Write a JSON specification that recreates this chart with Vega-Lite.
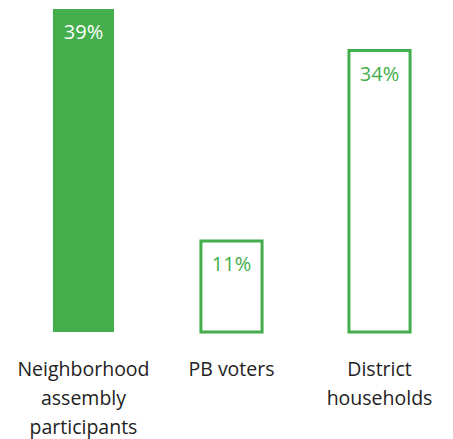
{
  "$schema": "https://vega.github.io/schema/vega-lite/v6.json",
  "autosize": "none",
  "width": 443,
  "height": 332,
  "padding": {"left": 10, "top": 0, "right": 0, "bottom": 107},
  "background": "white",
  "config": {"view": {"stroke": null}, "font": "Open Sans"},
  "data": {"values": [
    {"group": "Neighborhood assembly participants", "share": 0.39},
    {"group": "PB voters", "share": 0.11},
    {"group": "District households", "share": 0.34}
  ]},
  "encoding": {
    "x": {"field": "group", "type": "nominal", "sort": null,
      "scale": {"paddingInner": 0.587, "paddingOuter": 0.29},
      "axis": {"title": null, "domain": false, "ticks": false, "tickSize": 0, "labelAngle": 0,
        "labelPadding": 28, "labelFontSize": 19.5, "labelColor": "#222222", "labelFont": "Open Sans",
        "labelLineHeight": 29, "labelBaseline": "top",
        "labelExpr": "datum.value == 'Neighborhood assembly participants' ? ['Neighborhood','assembly','participants'] : datum.value == 'District households' ? ['District','households'] : datum.value"}},
    "y": {"field": "share", "type": "quantitative", "scale": {"domain": [0, 0.401]}, "axis": null}
  },
  "layer": [
    {"mark": {"type": "bar", "strokeWidth": 3, "stroke": "#43ae4b"},
     "encoding": {"fill": {"condition": {"test": "datum.group == 'Neighborhood assembly participants'", "value": "#43ae4b"}, "value": "white"},
       "strokeOpacity": {"condition": {"test": "datum.group == 'Neighborhood assembly participants'", "value": 0}, "value": 1}}},
    {"mark": {"type": "text", "dy": 30, "baseline": "alphabetic", "fontSize": 20, "font": "Open Sans"},
     "encoding": {"text": {"field": "share", "type": "quantitative", "format": ".0%"},
       "color": {"condition": {"test": "datum.group == 'Neighborhood assembly participants'", "value": "white"}, "value": "#43ae4b"}}}
  ]
}
